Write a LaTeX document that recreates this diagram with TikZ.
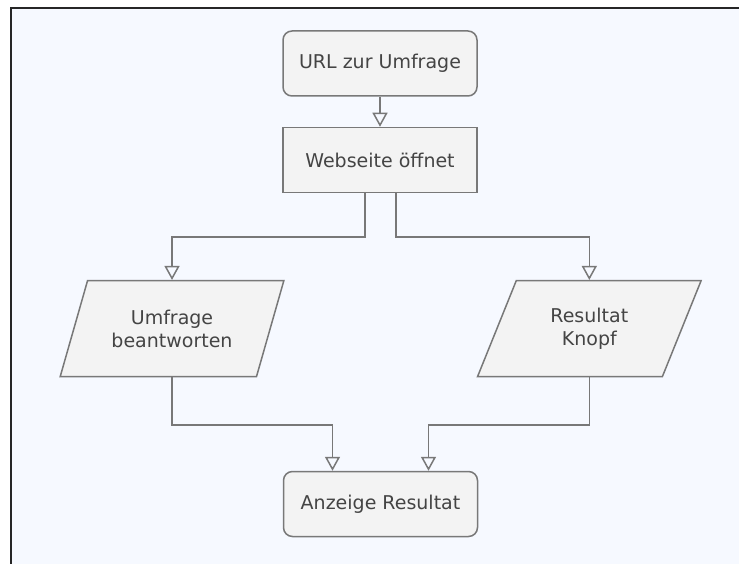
\documentclass[tikz,border=0pt]{standalone}
\usepackage{fontspec}
\setmainfont{DejaVu Sans}
\usepackage{tikz}
\usetikzlibrary{arrows.meta,calc,positioning,shapes.geometric}
\usepackage{xcolor}
\definecolor{bgblue}{RGB}{246,249,255}
\definecolor{boxfill}{RGB}{243,243,243}
\definecolor{linegray}{RGB}{120,120,120}
\definecolor{textgray}{RGB}{68,68,68}

\tikzset{
  box/.style={draw=linegray, fill=boxfill, line width=1.5pt, minimum width=194pt,
    minimum height=65pt, text=textgray, font=\fontsize{19}{23}\selectfont},
  roundbox/.style={box, rounded corners=9pt},
  iobox/.style={box, trapezium, trapezium left angle=65, trapezium right angle=115,
    trapezium stretches=true, minimum width=224pt, minimum height=96pt, align=center},
  flow/.style={draw=linegray, line width=1.5pt,
    -{Triangle[open, length=14pt, width=15pt, line width=1.5pt]}}
}

\begin{document}
\begin{tikzpicture}[x=1pt,y=-1pt]
  \useasboundingbox (0,0) rectangle (739,564);
  % frame
  \fill[bgblue] (11,8) rectangle (739,564);
  \draw[black!85, line width=2pt] (739,8) -- (11,8) -- (11,564);

  \node[roundbox] (url) at (380,63.5) {URL zur Umfrage};
  \node[box] (web) at (380,160) {Webseite öffnet};
  \node[iobox] (umfrage) at (172,328.7) {Umfrage\\beantworten};
  \node[iobox] (resultat) at (589.3,328.7) {Resultat\\Knopf};
  \node[roundbox] (anzeige) at (380.5,504) {Anzeige Resultat};

  \draw[flow] (url) -- (web);
  \draw[flow] ([xshift=-15pt]web.south) -- ++(0,44) -| (umfrage.north);
  \draw[flow] ([xshift=16pt]web.south) -- ++(0,44) -| (resultat.north);
  \draw[flow] (umfrage.south) -- ++(0,47.5) -| ([xshift=-48pt]anzeige.north);
  \draw[flow] (resultat.south) -- ++(0,47.5) -| ([xshift=48pt]anzeige.north);
\end{tikzpicture}
\end{document}
